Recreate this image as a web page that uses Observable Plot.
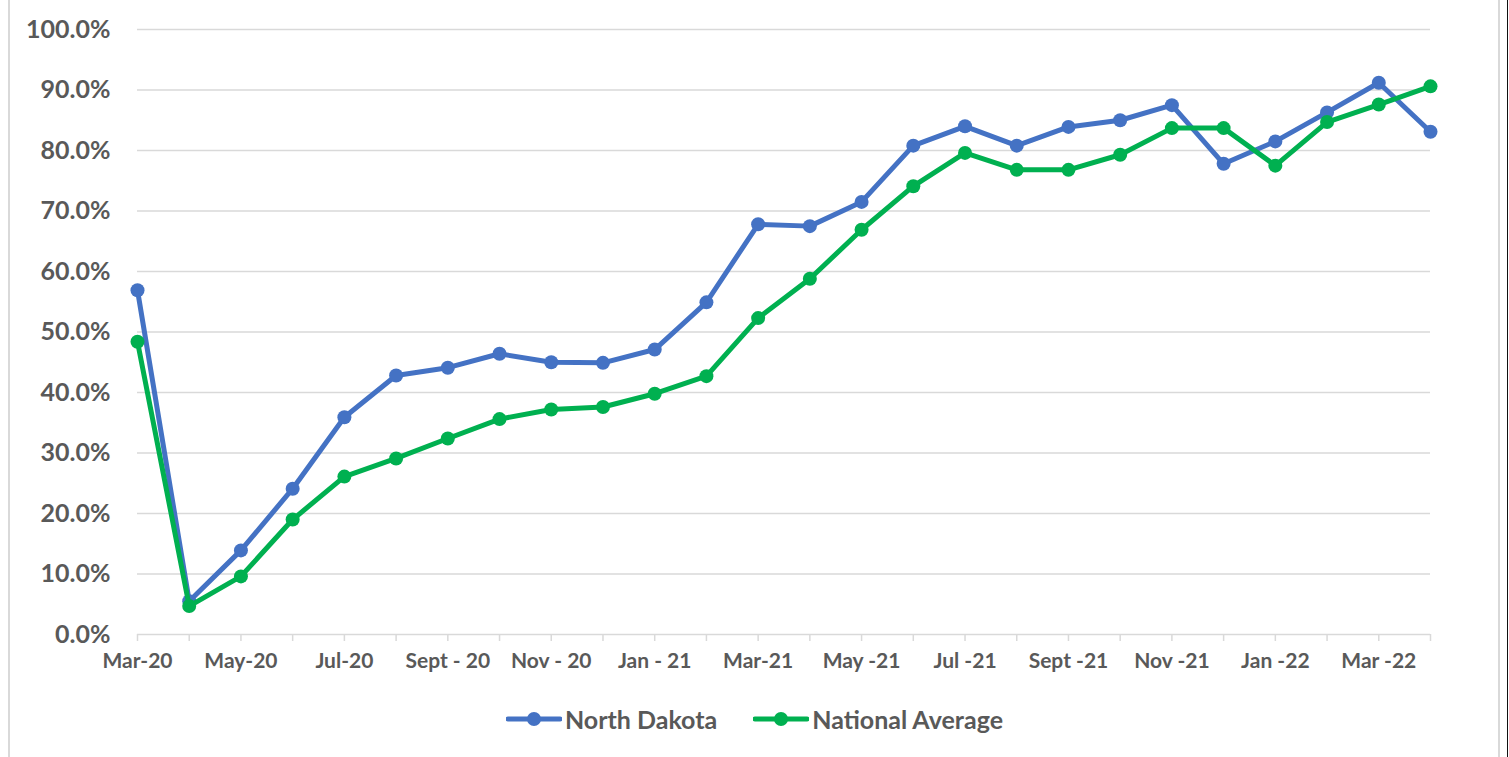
<!DOCTYPE html>
<html>
<head>
<meta charset="utf-8">
<script src="https://cdn.jsdelivr.net/npm/d3@7"></script>
<script src="https://cdn.jsdelivr.net/npm/@observablehq/plot@0.6"></script>
<style>
  html, body { margin: 0; padding: 0; background: #fff; }
  body { width: 1509px; height: 757px; position: relative; overflow: hidden; font-family: Lato, "Open Sans", sans-serif; }
  #chart { position: absolute; left: 0; top: 0; }
  .vline { position: absolute; top: 0; height: 757px; }
  #legend { position: absolute; left: 0; width: 1509px; top: 704px; display: flex; justify-content: center; align-items: center; gap: 36px; color: #595959; font-weight: 700; font-size: 25px; }
  .item { display: flex; align-items: center; gap: 3px; }
  .item svg { display: block; }
</style>
</head>
<body>
<div id="chart"></div>
<div class="vline" style="left:8px;width:2px;background:#d9d9d9"></div>
<div class="vline" style="left:1498px;width:2px;background:#d9d9d9"></div>
<div class="vline" style="left:1507px;width:1px;background:#111"></div>
<div id="legend"></div>
<script>
const months = ["Mar-20","Apr-20","May-20","Jun-20","Jul-20","Aug-20","Sep-20","Oct-20","Nov-20","Dec-20","Jan-21","Feb-21","Mar-21","Apr-21","May-21","Jun-21","Jul-21","Aug-21","Sep-21","Oct-21","Nov-21","Dec-21","Jan-22","Feb-22","Mar-22","Apr-22"];
const tickLabels = ["Mar-20","","May-20","","Jul-20","","Sept - 20","","Nov - 20","","Jan - 21","","Mar-21","","May -21","","Jul -21","","Sept -21","","Nov -21","","Jan -22","","Mar -22",""];
const northDakota = [56.9,5.5,13.9,24.1,35.9,42.8,44.1,46.4,45.0,44.9,47.1,54.9,67.8,67.5,71.5,80.8,84.0,80.8,83.9,85.0,87.5,77.8,81.5,86.3,91.2,83.1];
const nationalAverage = [48.4,4.7,9.6,19.0,26.1,29.1,32.4,35.6,37.2,37.6,39.8,42.7,52.3,58.8,66.9,74.1,79.6,76.8,76.8,79.3,83.7,83.7,77.5,84.7,87.6,90.6];
const seriesNames = ["North Dakota","National Average"];
const seriesColors = ["#4472C4","#00B050"];
const yTicks = [0,10,20,30,40,50,60,70,80,90,100];

const ndData = months.map((m,i)=>({month:m, value:northDakota[i]}));
const naData = months.map((m,i)=>({month:m, value:nationalAverage[i]}));

const chart = Plot.plot({
  width: 1509,
  height: 690,
  marginLeft: 137,
  marginRight: 79,
  marginTop: 29,
  marginBottom: 56,
  style: {fontFamily: "Lato, 'Open Sans', sans-serif", background: "transparent"},
  x: {type: "point", domain: months, padding: 0, round: false, label: null},
  y: {domain: [0, 100], label: null},
  marks: [
    Plot.gridY(yTicks.filter(d => d > 0), {stroke: "#d9d9d9", strokeOpacity: 1, strokeWidth: 1.5}),
    Plot.ruleY([0], {stroke: "#d9d9d9", strokeWidth: 1.5}),
    Plot.axisX({ticks: months, tickSize: 7, stroke: "#d9d9d9", strokeWidth: 1.5, tickFormat: () => "", label: null}),
    Plot.axisX({ticks: months, tickSize: 0, tickPadding: 19, tickFormat: d => tickLabels[months.indexOf(d)], color: "#595959", fontSize: 21, fontWeight: "bold", label: null}),
    Plot.axisY({ticks: yTicks, tickSize: 0, tickPadding: 27, tickFormat: d => d.toFixed(1) + "%", color: "#595959", fontSize: 25, fontWeight: "bold", label: null}),
    Plot.line(ndData, {x: "month", y: "value", stroke: seriesColors[0], strokeWidth: 5, strokeLinejoin: "round"}),
    Plot.dot(ndData, {x: "month", y: "value", r: 7, fill: seriesColors[0], stroke: "none"}),
    Plot.line(naData, {x: "month", y: "value", stroke: seriesColors[1], strokeWidth: 5, strokeLinejoin: "round"}),
    Plot.dot(naData, {x: "month", y: "value", r: 7, fill: seriesColors[1], stroke: "none"})
  ]
});
document.getElementById("chart").appendChild(chart);

const legend = document.getElementById("legend");
seriesNames.forEach((name, i) => {
  const item = document.createElement("div");
  item.className = "item";
  item.innerHTML = `<svg width="56" height="16"><line x1="2" y1="8" x2="54" y2="8" stroke="${seriesColors[i]}" stroke-width="5" stroke-linecap="round"/><circle cx="28" cy="8" r="7" fill="${seriesColors[i]}"/></svg><span>${name}</span>`;
  legend.appendChild(item);
});
</script>
</body>
</html>
